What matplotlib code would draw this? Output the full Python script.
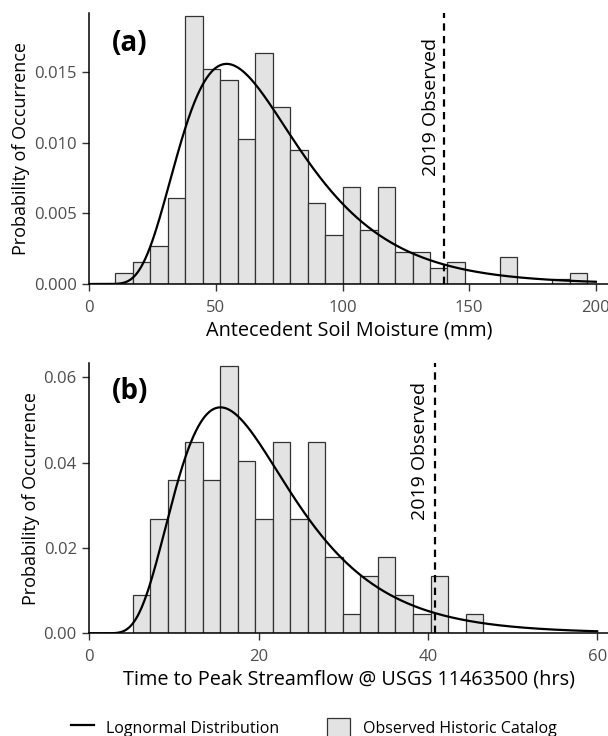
import numpy as np
import matplotlib
matplotlib.use('Agg')
import matplotlib.pyplot as plt
from matplotlib.patches import Patch
from matplotlib.lines import Line2D

plt.rcParams['font.family'] = ['Open Sans', 'DejaVu Sans']

# (a) antecedent soil moisture histogram (density) + lognormal fit
sm_bin_start = 10.3
sm_bin_width = 6.9
sm_density = [0.00078, 0.00153, 0.00267, 0.00608, 0.01898, 0.01518, 0.01443,
              0.01023, 0.01634, 0.01250, 0.00945, 0.00573, 0.00344, 0.00684,
              0.00382, 0.00684, 0.00226, 0.00226, 0.00115, 0.00153, 0.0, 0.0,
              0.00189, 0.0, 0.0, 0.00038, 0.00078]
sm_meanlog, sm_sdlog = 4.1785, 0.431
sm_observed = 140
sm_xticks = [0, 50, 100, 150, 200]
sm_yticks = [0.000, 0.005, 0.010, 0.015]

# (b) time to peak streamflow histogram + lognormal fit
tp_bin_start = 5.12
tp_bin_width = 2.07
tp_density = [0.0090, 0.0269, 0.0359, 0.0449, 0.0359, 0.0627, 0.0404, 0.0269,
              0.0449, 0.0269, 0.0449, 0.0180, 0.0045, 0.0135, 0.0180, 0.0090,
              0.0045, 0.0135, 0.0, 0.0045]
tp_meanlog, tp_sdlog = 2.935, 0.441
tp_observed = 40.8
tp_xticks = [0, 20, 40, 60]
tp_yticks = [0.00, 0.02, 0.04, 0.06]


def lognorm_pdf(x, mu, s):
    x = np.asarray(x, dtype=float)
    out = np.zeros_like(x)
    m = x > 0
    out[m] = np.exp(-(np.log(x[m]) - mu) ** 2 / (2 * s ** 2)) / (x[m] * s * np.sqrt(2 * np.pi))
    return out


W, H = 608, 736
fig = plt.figure(figsize=(W / 100, H / 100), dpi=100)

fill = '#e3e3e3'
edge = '#333333'
tick_col = '#4d4d4d'


def panel(rect, start, width, dens, mu, s, xmax_curve, obs, xlim, ylim,
          xticks, yticks, yfmt, xlabel, tag, tag_xy, txt_xy):
    ax = fig.add_axes(rect)
    lefts = start + width * np.arange(len(dens))
    ax.bar(lefts, dens, width=width, align='edge', color=fill,
           edgecolor=edge, linewidth=0.9, zorder=1)
    xs = np.linspace(0, xmax_curve, 600)
    ax.plot(xs, lognorm_pdf(xs, mu, s), color='black', lw=1.6, zorder=3)
    ax.axvline(obs, color='black', lw=1.6, ls=(0, (3.3, 2.4)), zorder=2)
    ax.text(txt_xy[0], txt_xy[1], '2019 Observed', rotation=90,
            ha='center', va='center', fontsize=14)
    ax.text(tag_xy[0], tag_xy[1], tag, fontsize=20, fontweight='bold',
            ha='left', va='center')
    ax.set_xlim(*xlim)
    ax.set_ylim(*ylim)
    ax.set_xticks(xticks)
    ax.set_yticks(yticks)
    ax.set_yticklabels([yfmt.format(v) for v in yticks])
    ax.tick_params(colors='#333333', labelcolor=tick_col, labelsize=12,
                   length=5, width=1)
    ax.tick_params(axis='x', pad=6.5)
    ax.tick_params(axis='y', pad=4)
    for sp in ['top', 'right']:
        ax.spines[sp].set_visible(False)
    for sp in ['left', 'bottom']:
        ax.spines[sp].set_linewidth(1.1)
    ax.set_xlabel(xlabel, fontsize=14.3, labelpad=3)
    ax.set_ylabel('Probability of Occurrence', fontsize=13, labelpad=2.5)
    return ax


left = 89.3 / W
# panel (a): 2.533 px per mm
xmax_a = 205
ax1 = panel([left, 1 - 284 / H, xmax_a * 2.533 / W, (284 - 13) / H],
            sm_bin_start, sm_bin_width, sm_density, sm_meanlog, sm_sdlog, 200,
            sm_observed, (0, xmax_a), (0, 0.01916), sm_xticks, sm_yticks,
            '{:.3f}', 'Antecedent Soil Moisture (mm)', '(a)', (8.8, 0.0170),
            (134.8, 0.0125))

# panel (b): 8.465 px per hr
xmax_b = 61.3
ax2 = panel([left, 1 - 633.3 / H, xmax_b * 8.465 / W, (633.3 - 363.3) / H],
            tp_bin_start, tp_bin_width, tp_density, tp_meanlog, tp_sdlog, 60,
            tp_observed, (0, xmax_b), (0, 0.0633), tp_xticks, tp_yticks,
            '{:.2f}', 'Time to Peak Streamflow @ USGS 11463500 (hrs)', '(b)',
            (2.7, 0.0566), (39.1, 0.0428))

handles = [Line2D([0], [0], color='black', lw=1.6),
           Patch(facecolor=fill, edgecolor=edge, linewidth=0.9)]
fig.legend(handles, ['Lognormal Distribution', 'Observed Historic Catalog'],
           ncol=2, loc='center', bbox_to_anchor=(0.516, 1 - 728 / H),
           frameon=False, fontsize=11.5, handlelength=1.4, handleheight=1.6,
           columnspacing=3.0, handletextpad=0.8)

fig.savefig('out.png', dpi=100)
